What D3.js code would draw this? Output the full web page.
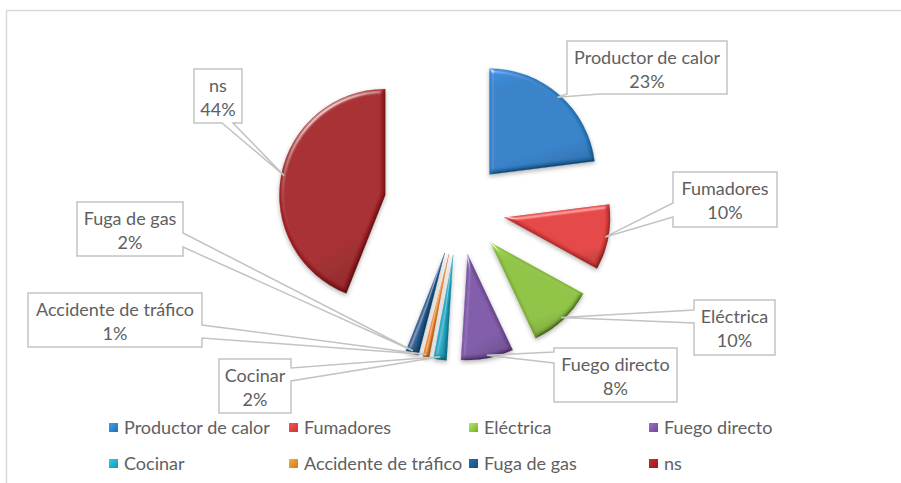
<!DOCTYPE html>
<html>
<head>
<meta charset="utf-8">
<script src="https://cdn.jsdelivr.net/npm/d3@7/dist/d3.min.js"></script>
<style>
  html, body { margin: 0; padding: 0; background: #ffffff; }
  svg { display: block; }
  text { font-family: Lato, "Liberation Sans", sans-serif; fill: #606060; }
</style>
</head>
<body>
<svg id="chart" width="901" height="483"></svg>
<script>
// ---------- data ----------
const categories = ["Productor de calor", "Fumadores", "Eléctrica", "Fuego directo",
                    "Cocinar", "Accidente de tráfico", "Fuga de gas", "ns"];
const values = [23, 10, 10, 8, 2, 1, 2, 44];
const percentLabels = ["23%", "10%", "10%", "8%", "2%", "1%", "2%", "44%"];

// ---------- styles / layout ----------
const colors = ["#2D80C8", "#E3413F", "#8DC241", "#7F59A8",
                "#20A9C6", "#EF8A2A", "#1E5A8D", "#A52226"];
const explodeBy = [46, 46, 46, 46, 46, 46, 46, 75];
const center = [459, 209];
const radius = 106;
// callout boxes: [x0, y0, x1, y1], side the leader leaves from, leader base span
const callouts = [
  { box: [567, 41, 727, 94],  side: "bottom", base: [567, 600] },
  { box: [673, 172, 777, 227], side: "left",  base: [203, 217] },
  { box: [694, 300, 775, 355], side: "left",  base: [310, 323] },
  { box: [554, 348, 677, 402], side: "left",  base: [352, 363] },
  { box: [219, 359, 291, 413], side: "right", base: [368, 381] },
  { box: [28, 293, 202, 347],  side: "right", base: [325, 338] },
  { box: [77, 202, 183, 256],  side: "right", base: [233, 247] },
  { box: [194, 69, 242, 123],  side: "bottom", base: [222, 233] }
];
const legendCols = [109, 289, 469, 649];
const legendRows = [434, 470];
const fontSize = 18;

const svg = d3.select("#chart");
const defs = svg.append("defs");

// frame
svg.append("rect")
  .attr("x", 6.5).attr("y", 10.5).attr("width", 1000).attr("height", 1000)
  .attr("fill", "none").attr("stroke", "#D9D9D9").attr("stroke-width", 1.5);

// bevel + shadow filter
const f = defs.append("filter").attr("id", "bevel")
  .attr("x", "-30%").attr("y", "-30%").attr("width", "160%").attr("height", "160%");
f.append("feGaussianBlur").attr("in", "SourceAlpha").attr("stdDeviation", 2).attr("result", "blur");
const diff = f.append("feDiffuseLighting").attr("in", "blur").attr("surfaceScale", 3)
  .attr("diffuseConstant", 1.16).attr("lighting-color", "#ffffff").attr("result", "diff");
diff.append("feDistantLight").attr("azimuth", 235).attr("elevation", 60);
f.append("feComposite").attr("in", "SourceGraphic").attr("in2", "diff")
  .attr("operator", "arithmetic").attr("k1", 1).attr("k2", 0).attr("k3", 0).attr("k4", 0)
  .attr("result", "shaded");
const spec = f.append("feSpecularLighting").attr("in", "blur").attr("surfaceScale", 3)
  .attr("specularConstant", 0.55).attr("specularExponent", 30)
  .attr("lighting-color", "#ffffff").attr("result", "spec");
spec.append("feDistantLight").attr("azimuth", 235).attr("elevation", 35);
f.append("feComposite").attr("in", "spec").attr("in2", "SourceAlpha")
  .attr("operator", "in").attr("result", "specIn");
f.append("feComposite").attr("in", "shaded").attr("in2", "specIn")
  .attr("operator", "arithmetic").attr("k1", 0).attr("k2", 1).attr("k3", 1).attr("k4", 0)
  .attr("result", "lit");
f.append("feComposite").attr("in", "lit").attr("in2", "SourceAlpha")
  .attr("operator", "in").attr("result", "litClip");
f.append("feGaussianBlur").attr("in", "SourceAlpha").attr("stdDeviation", 2).attr("result", "sblur");
f.append("feOffset").attr("in", "sblur").attr("dx", 0).attr("dy", 2).attr("result", "soff");
f.append("feFlood").attr("flood-color", "#000").attr("flood-opacity", 0.28).attr("result", "sflood");
f.append("feComposite").attr("in", "sflood").attr("in2", "soff").attr("operator", "in").attr("result", "shadow");
const merge = f.append("feMerge");
merge.append("feMergeNode").attr("in", "shadow");
merge.append("feMergeNode").attr("in", "litClip");

// gradients
colors.forEach((c, i) => {
  const g = defs.append("linearGradient").attr("id", "grad" + i)
    .attr("x1", 0).attr("y1", 0).attr("x2", 0.3).attr("y2", 1);
  g.append("stop").attr("offset", "0%").attr("stop-color", d3.color(c).brighter(0.3));
  g.append("stop").attr("offset", "20%").attr("stop-color", c);
  g.append("stop").attr("offset", "85%").attr("stop-color", c);
  g.append("stop").attr("offset", "100%").attr("stop-color", d3.color(c).darker(0.3));
  const lg = defs.append("linearGradient").attr("id", "lgrad" + i)
    .attr("x1", 0).attr("y1", 0).attr("x2", 1).attr("y2", 1);
  lg.append("stop").attr("offset", "0%").attr("stop-color", d3.color(c).brighter(0.6));
  lg.append("stop").attr("offset", "100%").attr("stop-color", d3.color(c).darker(0.4));
});

const pie = d3.pie().sort(null).value(d => d).startAngle(0).endAngle(2 * Math.PI);
const arcs = pie(values);
const arcGen = d3.arc().innerRadius(0).outerRadius(radius);

const dirOf = a => [Math.sin(a), -Math.cos(a)];

// slices
const sliceG = svg.append("g");
arcs.forEach((a, i) => {
  const mid = (a.startAngle + a.endAngle) / 2;
  const [dx, dy] = dirOf(mid);
  const tx = center[0] + dx * explodeBy[i];
  const ty = center[1] + dy * explodeBy[i];
  sliceG.append("path")
    .attr("transform", `translate(${tx},${ty})`)
    .attr("d", arcGen(a))
    .attr("fill", `url(#grad${i})`)
    .attr("stroke", d3.color(colors[i]).darker(0.2))
    .attr("stroke-width", 0.6)
    .attr("stroke-linejoin", "round")
    .attr("filter", "url(#bevel)");
});

// callouts
function calloutPath(c, tip) {
  const [x0, y0, x1, y1] = c.box;
  const [a, b] = c.base;
  const p = [];
  p.push([x0, y0]);
  if (c.side === "top") { p.push([a, y0], tip, [b, y0]); }
  p.push([x1, y0]);
  if (c.side === "right") { p.push([x1, a], tip, [x1, b]); }
  p.push([x1, y1]);
  if (c.side === "bottom") { p.push([b, y1], tip, [a, y1]); }
  p.push([x0, y1]);
  if (c.side === "left") { p.push([x0, b], tip, [x0, a]); }
  return "M" + p.map(q => q.join(",")).join("L") + "Z";
}

const labelG = svg.append("g");
arcs.forEach((a, i) => {
  const mid = (a.startAngle + a.endAngle) / 2;
  const [dx, dy] = dirOf(mid);
  const dist = explodeBy[i] + radius - 3;
  const tip = [center[0] + dx * dist, center[1] + dy * dist];
  const c = callouts[i];
  labelG.append("path")
    .attr("d", calloutPath(c, tip))
    .attr("fill", "none")
    .attr("stroke", "#C3C3C3")
    .attr("stroke-width", 1.5)
    .attr("stroke-linejoin", "miter");
  labelG.append("rect")
    .attr("x", c.box[0] + 1).attr("y", c.box[1] + 1)
    .attr("width", c.box[2] - c.box[0] - 2).attr("height", c.box[3] - c.box[1] - 2)
    .attr("fill", "#ffffff");
  const cx = (c.box[0] + c.box[2]) / 2;
  const t = labelG.append("text")
    .attr("text-anchor", "middle")
    .attr("font-size", fontSize);
  t.append("tspan").attr("x", cx).attr("y", c.box[1] + 23).text(categories[i]);
  t.append("tspan").attr("x", cx).attr("y", c.box[1] + 47).text(percentLabels[i]);
});

// legend
const legendG = svg.append("g");
categories.forEach((name, i) => {
  const x = legendCols[i % 4];
  const y = legendRows[Math.floor(i / 4)];
  legendG.append("rect")
    .attr("x", x).attr("y", y - 11).attr("width", 9).attr("height", 9)
    .attr("fill", `url(#lgrad${i})`);
  legendG.append("text")
    .attr("x", x + 15).attr("y", y)
    .attr("font-size", fontSize)
    .text(name);
});
</script>
</body>
</html>
